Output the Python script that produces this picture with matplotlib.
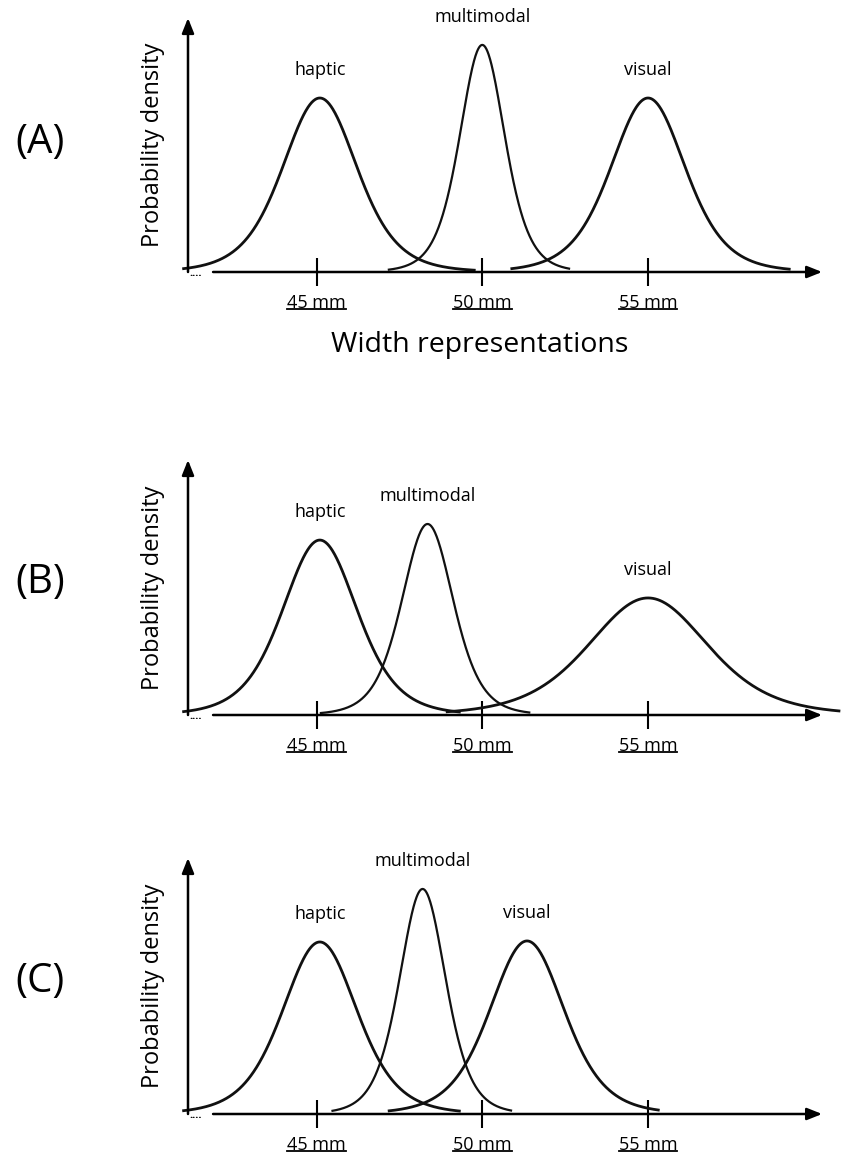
import numpy as np
import matplotlib.pyplot as plt
from matplotlib.lines import Line2D

plt.rcParams['font.family'] = ['Open Sans', 'DejaVu Sans']

W, H = 843, 1159

# curve parameters per panel: peak position (mm), spread (mm), peak height, drawn range (mm)
panels = ['(A)', '(B)', '(C)']
curve_names = ['haptic', 'multimodal', 'visual']

means = [[45.1, 50.0, 55.0],
         [45.1, 48.35, 55.0],
         [45.1, 48.2, 51.35]]
spreads = [[1.16, 0.70, 1.16],
           [1.16, 0.80, 1.85],
           [1.16, 0.72, 1.16]]
heights = [[0.685, 0.894, 0.685],
           [0.686, 0.749, 0.459],
           [0.672, 0.879, 0.676]]
x_from = [[40.95, 47.15, 50.85],
          [40.95, 45.1, 48.9],
          [40.95, 45.45, 47.15]]
x_to = [[49.8, 52.65, 59.3],
        [49.35, 51.45, 60.8],
        [49.35, 50.9, 55.35]]
line_w = [2.0, 1.6, 2.0]

tick_mm = [45, 50, 55]
tick_labels = ['45 mm', '50 mm', '55 mm']

# pixel rows of the x-axis and the top of the y arrow for each panel
axis_rows = [272, 715, 1114]
top_rows = [18, 460, 858]
letter_rows = [143, 583, 982]

x_left, x_right = 41.124, 60.79


def bell(x, mu, s, h, nu=6.0):
    z = (x - mu) / s
    return h * (1 + z**2 / nu) ** (-(nu + 1) / 2)


fig = plt.figure(figsize=(W / 100, H / 100), dpi=100)
fig.patch.set_facecolor('white')

axes = []
for p in range(3):
    ay, ty = axis_rows[p], top_rows[p]
    ax = fig.add_axes([188 / W, 1 - ay / H, (840 - 188) / W, (ay - ty) / H])
    ax.set_xlim(x_left, x_right)
    ax.set_ylim(0, 1)
    for sp in ax.spines.values():
        sp.set_visible(False)
    ax.patch.set_alpha(0)
    ax.set_yticks([])
    ax.set_xticks(tick_mm)
    ax.set_xticklabels(tick_labels, fontsize=13)
    ax.tick_params(axis='x', direction='inout', length=20, width=1.5, pad=6)

    # axes arrows
    arrow = dict(arrowstyle='-|>,head_length=0.5,head_width=0.2', lw=1.8,
                 color='black', shrinkA=0, shrinkB=0, mutation_scale=18)
    ax.annotate('', xy=(x_left, 1), xytext=(x_left, 0), arrowprops=arrow,
                annotation_clip=False)
    ax.annotate('', xy=(60.25, 0), xytext=(41.88, 0), arrowprops=arrow,
                annotation_clip=False)
    ax.text(41.18, -0.004, '....', fontsize=8, fontweight='bold',
            ha='left', va='center')

    for c in range(3):
        xs = np.linspace(x_from[p][c], x_to[p][c], 500)
        ax.plot(xs, bell(xs, means[p][c], spreads[p][c], heights[p][c]),
                color='#111111', lw=line_w[c], clip_on=False,
                solid_capstyle='butt')
        ax.annotate(curve_names[c], xy=(means[p][c], heights[p][c]),
                    xytext=(0, 20), textcoords='offset points',
                    ha='center', va='center', fontsize=13)

    ax.text(-35 / 652, 0.5, 'Probability density', rotation=90,
            transform=ax.transAxes, ha='center', va='center', fontsize=17)
    fig.text(40 / W, 1 - letter_rows[p] / H, panels[p], fontsize=29,
             ha='center', va='center')
    axes.append(ax)

fig.text(480 / W, 1 - 345 / H, 'Width representations', fontsize=20.5,
         ha='center', va='center')

# underline the tick labels
fig.canvas.draw()
renderer = fig.canvas.get_renderer()
for ax in axes:
    for lab in ax.get_xticklabels():
        bb = lab.get_window_extent(renderer)
        y = (bb.y0 + 3) / H
        fig.add_artist(Line2D([bb.x0 / W, bb.x1 / W], [y, y], color='black',
                              lw=1.3, transform=fig.transFigure))

fig.savefig('out.png', dpi=100)
